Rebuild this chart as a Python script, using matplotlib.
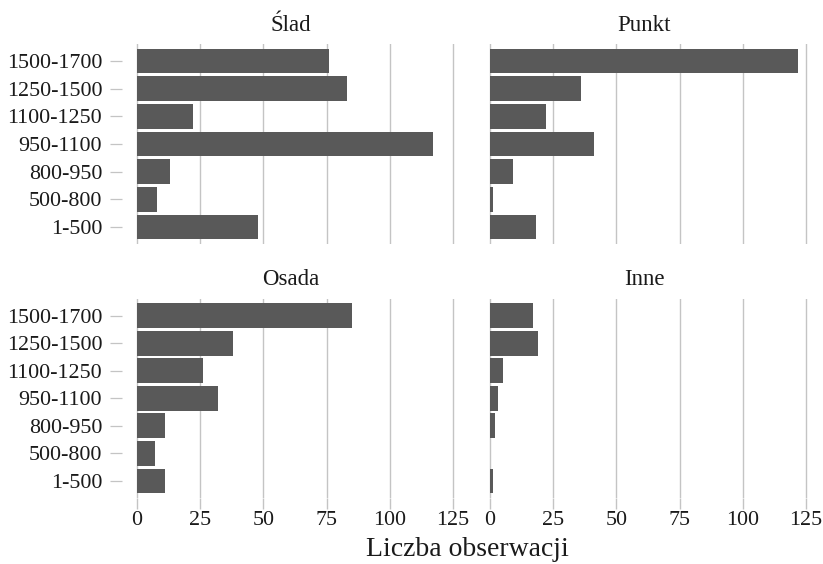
import matplotlib
matplotlib.use("Agg")
import matplotlib.pyplot as plt
import numpy as np

categories = ["1-500", "500-800", "800-950", "950-1100", "1100-1250", "1250-1500", "1500-1700"]
panels = ["Ślad", "Punkt", "Osada", "Inne"]
slad = [48, 8, 13, 117, 22, 83, 76]
punkt = [18, 1, 9, 41, 22, 36, 122]
osada = [11, 7, 11, 32, 26, 38, 85]
inne = [1, 0, 2, 3, 5, 19, 17]
x_ticks = [0, 25, 50, 75, 100, 125]
x_label = "Liczba obserwacji"

values = [slad, punkt, osada, inne]

plt.rcParams['font.family'] = ['Liberation Serif', 'DejaVu Serif']

W, H = 823, 564
fig = plt.figure(figsize=(W / 100, H / 100), dpi=100)

def px_axes(x0, y0, x1, y1):
    return fig.add_axes([x0 / W, 1 - y1 / H, (x1 - x0) / W, (y1 - y0) / H])

boxes = [
    (121.6, 44.4, 460.8, 243.6),
    (474.6, 44.4, 813.8, 243.6),
    (121.6, 299.2, 460.8, 497.5),
    (474.6, 299.2, 813.8, 497.5),
]

bar_color = "#595959"
grid_color = "#c4c4c4"
text_color = "#1a1a1a"
xmax = 122
pad = xmax * 0.05

for i, (name, vals, box) in enumerate(zip(panels, values, boxes)):
    ax = px_axes(*box)
    y = np.arange(len(categories))
    ax.barh(y, vals, height=0.9, color=bar_color, zorder=3)
    ax.set_xlim(-pad, xmax + pad)
    ax.set_ylim(-0.6, len(categories) - 0.4)
    ax.set_xticks(x_ticks)
    ax.grid(axis="x", color=grid_color, linewidth=1.0, zorder=0)
    ax.grid(axis="y", visible=False)
    for s in ax.spines.values():
        s.set_visible(False)
    ax.set_title(name, fontsize=16.5, color=text_color, pad=10)
    if i % 2 == 0:
        ax.set_yticks(y)
        ax.set_yticklabels(categories, fontsize=15.8, color=text_color)
        ax.tick_params(axis="y", length=9, width=0.9, color=grid_color, pad=5)
    else:
        ax.set_yticks([])
    if i >= 2:
        ax.set_xticklabels([str(t) for t in x_ticks], fontsize=15.8, color=text_color)
        ax.tick_params(axis="x", length=8, width=1.0, color=grid_color, pad=2)
    else:
        ax.tick_params(axis="x", length=0, labelbottom=False)

fig.text((121.6 + 813.8) / 2 / W, 1 - 549 / H, x_label, fontsize=20, color=text_color,
         ha="center", va="center")

fig.savefig("out.png", dpi=100, facecolor="white")
